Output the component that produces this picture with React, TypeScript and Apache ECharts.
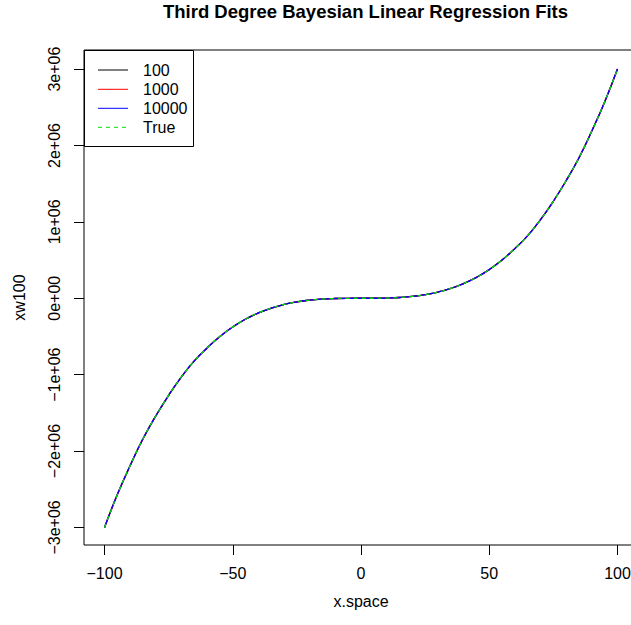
import React, { useEffect, useRef } from "react";
import * as echarts from "echarts";

// x grid
const xSpace = [
  -100, -95, -90, -85, -80, -75, -70, -65, -60, -55, -50, -45, -40, -35, -30, -25, -20, -15, -10, -5,
  0, 5, 10, 15, 20, 25, 30, 35, 40, 45, 50, 55, 60, 65, 70, 75, 80, 85, 90, 95, 100,
];
// fitted values (in units of 1e6) for 100, 1000, 10000 samples and the true curve
const fit100 = [
  -3.0, -2.57, -2.19, -1.84, -1.54, -1.27, -1.03, -0.82, -0.65, -0.5, -0.375, -0.273, -0.192, -0.129,
  -0.081, -0.047, -0.024, -0.01, -0.003, -0.0004, 0, 0.0004, 0.003, 0.01, 0.024, 0.047, 0.081, 0.129,
  0.192, 0.273, 0.375, 0.5, 0.65, 0.82, 1.03, 1.27, 1.54, 1.84, 2.19, 2.57, 3.0,
];
const fit1000 = [
  -3.0, -2.57, -2.19, -1.84, -1.54, -1.27, -1.03, -0.82, -0.65, -0.5, -0.375, -0.273, -0.192, -0.129,
  -0.081, -0.047, -0.024, -0.01, -0.003, -0.0004, 0, 0.0004, 0.003, 0.01, 0.024, 0.047, 0.081, 0.129,
  0.192, 0.273, 0.375, 0.5, 0.65, 0.82, 1.03, 1.27, 1.54, 1.84, 2.19, 2.57, 3.0,
];
const fit10000 = [
  -3.0, -2.57, -2.19, -1.84, -1.54, -1.27, -1.03, -0.82, -0.65, -0.5, -0.375, -0.273, -0.192, -0.129,
  -0.081, -0.047, -0.024, -0.01, -0.003, -0.0004, 0, 0.0004, 0.003, 0.01, 0.024, 0.047, 0.081, 0.129,
  0.192, 0.273, 0.375, 0.5, 0.65, 0.82, 1.03, 1.27, 1.54, 1.84, 2.19, 2.57, 3.0,
];
const trueVals = [
  -3.0, -2.57, -2.19, -1.84, -1.54, -1.27, -1.03, -0.82, -0.65, -0.5, -0.375, -0.273, -0.192, -0.129,
  -0.081, -0.047, -0.024, -0.01, -0.003, -0.0004, 0, 0.0004, 0.003, 0.01, 0.024, 0.047, 0.081, 0.129,
  0.192, 0.273, 0.375, 0.5, 0.65, 0.82, 1.03, 1.27, 1.54, 1.84, 2.19, 2.57, 3.0,
];

const seriesNames = ["100", "1000", "10000", "True"];
const seriesColors = ["#000000", "#FF0000", "#0000FF", "#00E000"];

const xTickVals = [-100, -50, 0, 50, 100];
const xTickLabels = ["\u2212100", "\u221250", "0", "50", "100"];
const yTickVals = [-3e6, -2e6, -1e6, 0, 1e6, 2e6, 3e6];
const yTickLabels = ["\u22123e+06", "\u22122e+06", "\u22121e+06", "0e+00", "1e+06", "2e+06", "3e+06"];

const FONT = "'Liberation Sans', Arial, Helvetica, sans-serif";

export default function App() {
  const ref = useRef<HTMLDivElement>(null);
  useEffect(() => {
    if (!ref.current) return;
    const chart = echarts.init(ref.current, undefined, { renderer: "svg" });
    const valueSets = [fit100, fit1000, fit10000, trueVals];
    const gridLeft = 84;
    const gridTop = 50;
    const gridW = 554;
    const gridH = 495;

    const legendX = 84;
    const legendY = 50;
    const rowYs = [70, 89.3, 108.3, 127.3];
    const legendGraphics: any[] = [
      {
        type: "rect",
        shape: { x: legendX + 0.5, y: legendY + 0.5, width: 109, height: 96 },
        style: { fill: "#ffffff", stroke: "#000000", lineWidth: 1 },
        z: 100,
      },
    ];
    seriesNames.forEach((n, i) => {
      legendGraphics.push({
        type: "line",
        shape: { x1: 98, y1: rowYs[i], x2: 128, y2: rowYs[i] },
        style: {
          stroke: seriesColors[i],
          lineWidth: 1,
          lineDash: i === 3 ? [4, 4] : null,
        },
        z: 101,
      });
      legendGraphics.push({
        type: "text",
        x: 143,
        y: rowYs[i],
        style: {
          text: n,
          font: `16px ${FONT}`,
          fill: "#000000",
          verticalAlign: "middle",
        },
        z: 101,
      });
    });

    chart.setOption({
      animation: false,
      backgroundColor: "#ffffff",
      title: {
        text: "Third Degree Bayesian Linear Regression Fits",
        left: 360.5,
        textAlign: "center",
        top: -3,
        textStyle: { fontFamily: FONT, fontWeight: "bold", fontSize: 18.5, color: "#000" },
      },
      grid: {
        left: gridLeft,
        top: gridTop,
        width: gridW,
        height: gridH,
        show: true,
        borderColor: "#000000",
        borderWidth: 1,
        backgroundColor: "transparent",
      },
      xAxis: {
        type: "value",
        min: -108,
        max: 108,
        name: "x.space",
        nameLocation: "middle",
        nameGap: 48,
        nameTextStyle: { fontFamily: FONT, fontSize: 16, color: "#000" },
        axisLine: { show: false, onZero: false },
        splitLine: { show: false },
        axisTick: {
          show: true,
          length: 10,
          customValues: xTickVals,
          lineStyle: { color: "#000", width: 1 },
        },
        axisLabel: {
          customValues: xTickVals,
          margin: 20,
          fontFamily: FONT,
          fontSize: 16,
          color: "#000",
          formatter: (v: number) => xTickLabels[xTickVals.indexOf(v)] ?? "",
        },
      },
      yAxis: {
        type: "value",
        min: -3.23e6,
        max: 3.25e6,
        name: "xw100",
        nameLocation: "middle",
        nameGap: 57,
        nameTextStyle: { fontFamily: FONT, fontSize: 16, color: "#000" },
        axisLine: { show: false, onZero: false },
        splitLine: { show: false },
        axisTick: {
          show: true,
          length: 10,
          customValues: yTickVals,
          lineStyle: { color: "#000", width: 1 },
        },
        axisLabel: {
          customValues: yTickVals,
          rotate: 90,
          margin: 22,
          fontFamily: FONT,
          fontSize: 16,
          color: "#000",
          formatter: (v: number) => yTickLabels[yTickVals.indexOf(v)] ?? "",
        },
      },
      series: seriesNames.map((n, i) => ({
        name: n,
        type: "line",
        data: xSpace.map((x, k) => [x, valueSets[i][k] * 1e6]),
        symbol: "none",
        smooth: true,
        lineStyle: {
          color: seriesColors[i],
          width: 1.3,
          type: i === 3 ? [4, 4] : "solid",
        },
        z: 2 + i,
      })),
      graphic: legendGraphics,
    });
    return () => chart.dispose();
  }, []);
  return (
    <div
      style={{
        position: "absolute",
        left: 0,
        top: 0,
        width: 631,
        height: 625,
        overflow: "hidden",
        background: "#fff",
      }}
    >
      <div ref={ref} style={{ width: 660, height: 625 }} />
    </div>
  );
}
